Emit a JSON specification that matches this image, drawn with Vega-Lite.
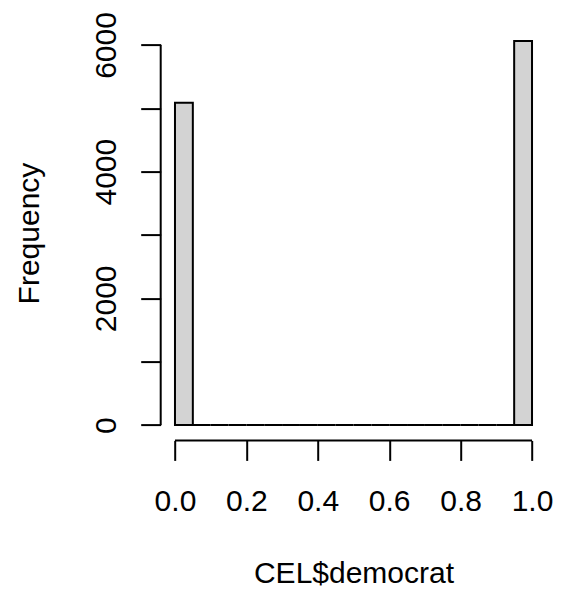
{
  "$schema": "https://vega.github.io/schema/vega-lite/v6.json",
  "width": 385.6,
  "height": 414.8,
  "autosize": {"type": "none"},
  "padding": {"left": 160.7, "top": 25.6, "right": 14.7, "bottom": 151.6},
  "background": "white",
  "config": {
    "view": {"stroke": null},
    "font": "Liberation Sans"
  },
  "layer": [
    {
      "data": {"values": [
        {"bin_start": 0.00, "bin_end": 0.05, "count": 5089},
        {"bin_start": 0.05, "bin_end": 0.10, "count": 0},
        {"bin_start": 0.10, "bin_end": 0.15, "count": 0},
        {"bin_start": 0.15, "bin_end": 0.20, "count": 0},
        {"bin_start": 0.20, "bin_end": 0.25, "count": 0},
        {"bin_start": 0.25, "bin_end": 0.30, "count": 0},
        {"bin_start": 0.30, "bin_end": 0.35, "count": 0},
        {"bin_start": 0.35, "bin_end": 0.40, "count": 0},
        {"bin_start": 0.40, "bin_end": 0.45, "count": 0},
        {"bin_start": 0.45, "bin_end": 0.50, "count": 0},
        {"bin_start": 0.50, "bin_end": 0.55, "count": 0},
        {"bin_start": 0.55, "bin_end": 0.60, "count": 0},
        {"bin_start": 0.60, "bin_end": 0.65, "count": 0},
        {"bin_start": 0.65, "bin_end": 0.70, "count": 0},
        {"bin_start": 0.70, "bin_end": 0.75, "count": 0},
        {"bin_start": 0.75, "bin_end": 0.80, "count": 0},
        {"bin_start": 0.80, "bin_end": 0.85, "count": 0},
        {"bin_start": 0.85, "bin_end": 0.90, "count": 0},
        {"bin_start": 0.90, "bin_end": 0.95, "count": 0},
        {"bin_start": 0.95, "bin_end": 1.00, "count": 6063}
      ]},
      "mark": {"type": "rect", "fill": "#d3d3d3", "stroke": "black", "strokeWidth": 2},
      "encoding": {
        "x": {
          "field": "bin_start", "type": "quantitative",
          "scale": {"domain": [-0.04, 1.04], "nice": false, "zero": false},
          "axis": {
            "values": [0, 0.2, 0.4, 0.6, 0.8, 1.0],
            "format": ".1f",
            "domain": false, "grid": false,
            "tickSize": 20, "tickWidth": 2, "tickColor": "black",
            "labelFontSize": 30, "labelColor": "black", "labelFont": "Liberation Sans",
            "labelBaseline": "alphabetic", "labelPadding": 49.6,
            "labelOverlap": false, "labelFlush": false,
            "title": "CEL$democrat",
            "titleFontSize": 30, "titleFontWeight": "normal", "titleColor": "black", "titleFont": "Liberation Sans",
            "titleX": 192.8, "titleY": 141.6, "titleBaseline": "alphabetic", "titleAlign": "center"
          }
        },
        "x2": {"field": "bin_end"},
        "y": {
          "field": "count", "type": "quantitative",
          "scale": {"domain": [-242.5, 6305.5], "nice": false, "zero": false},
          "axis": {
            "values": [0, 1000, 2000, 3000, 4000, 5000, 6000],
            "format": "d",
            "labelExpr": "datum.value % 2000 == 0 ? datum.label : ''",
            "domain": false, "grid": false,
            "tickSize": 20, "tickWidth": 2, "tickColor": "black",
            "labelFontSize": 30, "labelColor": "black", "labelFont": "Liberation Sans",
            "labelAngle": 270, "labelAlign": "center", "labelBaseline": "alphabetic",
            "labelPadding": 25.7, "labelOverlap": false, "labelFlush": false,
            "title": "Frequency",
            "titleFontSize": 30, "titleFontWeight": "normal", "titleColor": "black", "titleFont": "Liberation Sans",
            "titleAngle": 270, "titleX": -122.7, "titleY": 207.4, "titleBaseline": "alphabetic", "titleAlign": "center"
          }
        },
        "y2": {"datum": 0}
      }
    },
    {
      "data": {"values": [
        {"x": 0, "x2": 1, "y": -242.5, "y2": -242.5},
        {"x": -0.04, "x2": -0.04, "y": 0, "y2": 6000}
      ]},
      "mark": {"type": "rule", "color": "black", "strokeWidth": 2},
      "encoding": {
        "x": {"field": "x", "type": "quantitative"},
        "x2": {"field": "x2"},
        "y": {"field": "y", "type": "quantitative"},
        "y2": {"field": "y2"}
      }
    }
  ]
}
